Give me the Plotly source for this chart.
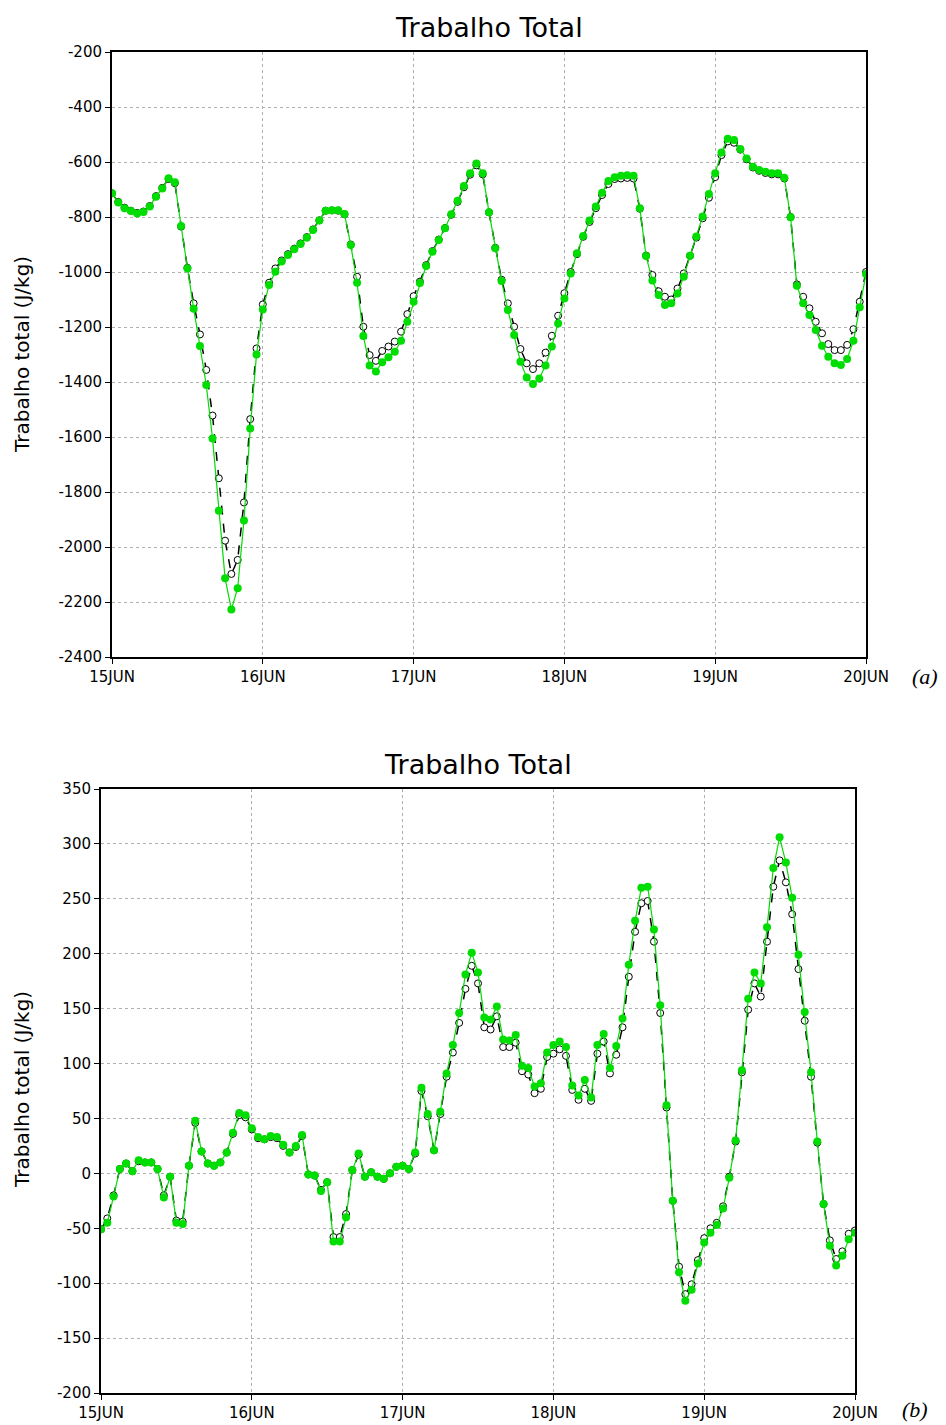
import plotly.graph_objects as go

W, H = 946, 1425
OFF = 8  # page body margin
FW, FH = W - OFF, H - OFF

hours = list(range(121))
day_ticks = [0, 24, 48, 72, 96, 120]
day_labels = ["15JUN", "16JUN", "17JUN", "18JUN", "19JUN", "20JUN"]

# Panel (a)
a_green = [-714, -747, -768, -778, -787, -782, -762, -726, -696, -659,
           -674, -833, -987, -1134, -1269, -1411, -1605, -1868, -2114, -2227,
           -2150, -1904, -1569, -1300, -1136, -1047, -999, -962, -938, -917,
           -898, -875, -847, -813, -777, -775, -775, -789, -902, -1039,
           -1233, -1340, -1362, -1328, -1310, -1290, -1250, -1181, -1108, -1040,
           -978, -926, -884, -841, -790, -741, -687, -641, -605, -641,
           -783, -914, -1033, -1138, -1229, -1326, -1384, -1407, -1387, -1340,
           -1271, -1187, -1096, -1005, -932, -869, -813, -762, -712, -669,
           -655, -650, -648, -650, -768, -942, -1031, -1084, -1120, -1114,
           -1078, -1017, -941, -871, -798, -716, -641, -565, -515, -520,
           -553, -587, -617, -629, -635, -641, -641, -657, -801, -1050,
           -1114, -1156, -1211, -1268, -1308, -1332, -1338, -1316, -1250, -1128,
           -1007]
a_black = [-714, -745, -766, -777, -785, -780, -760, -724, -694, -662,
           -677, -835, -985, -1114, -1227, -1356, -1522, -1750, -1977, -2098,
           -2047, -1838, -1535, -1278, -1118, -1039, -987, -958, -935, -915,
           -896, -873, -845, -812, -777, -776, -777, -790, -900, -1017,
           -1199, -1302, -1323, -1287, -1271, -1253, -1217, -1153, -1088, -1035,
           -975, -924, -882, -840, -792, -745, -692, -646, -612, -645,
           -783, -912, -1028, -1114, -1199, -1280, -1332, -1353, -1332, -1293,
           -1232, -1159, -1077, -1000, -935, -872, -818, -768, -720, -680,
           -662, -660, -658, -660, -770, -940, -1011, -1070, -1090, -1100,
           -1060, -1005, -941, -875, -805, -730, -655, -575, -525, -530,
           -555, -590, -620, -632, -640, -645, -645, -660, -800, -1045,
           -1090, -1132, -1181, -1223, -1262, -1284, -1284, -1265, -1208, -1108,
           -1000]
a_ticks = [-200, -400, -600, -800, -1000, -1200, -1400, -1600, -1800, -2000, -2200, -2400]

# Panel (b)
b_green = [-51, -45, -21, 4, 9, 2, 12, 10, 10, 4,
           -22, -3, -45, -46, 7, 48, 20, 9, 7, 10,
           19, 37, 55, 53, 41, 33, 31, 34, 33, 26,
           19, 25, 35, -1, -2, -16, -8, -62, -62, -40,
           3, 18, -3, 1, -3, -5, 0, 6, 7, 4,
           19, 78, 54, 21, 56, 91, 117, 146, 181, 201,
           183, 142, 140, 152, 122, 121, 126, 98, 96, 79,
           82, 110, 117, 120, 115, 80, 71, 85, 69, 117,
           127, 96, 116, 141, 190, 230, 260, 261, 222, 153,
           62, -25, -90, -116, -106, -82, -63, -54, -47, -32,
           -4, 30, 94, 159, 183, 173, 224, 278, 306, 283,
           251, 199, 147, 92, 29, -28, -66, -84, -75, -60,
           -54]
b_black = [-51, -41, -20, 4, 9, 2, 11, 10, 10, 4,
           -20, -3, -43, -44, 7, 46, 20, 9, 7, 10,
           19, 36, 53, 51, 40, 32, 31, 33, 32, 25,
           19, 24, 34, -1, -2, -15, -8, -58, -58, -37,
           3, 17, -3, 1, -3, -5, 0, 6, 7, 4,
           18, 75, 52, 21, 54, 88, 110, 137, 168, 189,
           173, 133, 131, 143, 115, 115, 119, 93, 90, 73,
           77, 106, 109, 113, 107, 76, 67, 77, 66, 109,
           120, 91, 108, 133, 179, 220, 246, 248, 211, 146,
           60, -25, -85, -110, -101, -79, -59, -50, -45, -30,
           -3, 29, 92, 149, 173, 161, 211, 261, 285, 265,
           236, 186, 139, 88, 28, -28, -61, -78, -71, -55,
           -52]
b_ticks = [350, 300, 250, 200, 150, 100, 50, 0, -50, -100, -150, -200]

title_text = "Trabalho Total"
ytitle_text = "Trabalho total (J/kg)"
panel_labels = ["(a)", "(b)"]

GREEN = "#00dd00"
FONT = "DejaVu Sans"

fig = go.Figure()


def add_pair(xa, ya, black, green):
    fig.add_trace(go.Scatter(
        x=hours, y=black, mode="lines+markers", xaxis=xa, yaxis=ya,
        line=dict(color="black", width=1.5, dash="dash"),
        marker=dict(symbol="circle", size=7, color="white",
                    line=dict(color="black", width=1)),
        showlegend=False))
    fig.add_trace(go.Scatter(
        x=hours, y=green, mode="lines+markers", xaxis=xa, yaxis=ya,
        line=dict(color=GREEN, width=1.2),
        marker=dict(symbol="circle", size=8, color=GREEN),
        showlegend=False))


add_pair("x", "y", a_black, a_green)
add_pair("x2", "y2", b_black, b_green)


def px_x(p):
    return (p - OFF) / FW


def px_y(p):
    return 1 - (p - OFF) / FH


axis_common = dict(
    showline=True, linecolor="black", linewidth=2, mirror=True,
    ticks="outside", ticklen=5, tickcolor="black", tickwidth=1,
    showgrid=True, gridcolor="#b0b0b0", griddash="dot", gridwidth=1,
    zeroline=False, automargin=False,
    tickfont=dict(family=FONT, size=15, color="black"),
)

fig.update_layout(
    width=FW, height=FH, autosize=False,
    margin=dict(l=0, r=0, t=0, b=0, pad=0, autoexpand=False),
    paper_bgcolor="white", plot_bgcolor="white",
    xaxis=dict(domain=[px_x(112), px_x(866)], anchor="y", range=[0, 120],
               tickvals=day_ticks, ticktext=day_labels, **axis_common),
    yaxis=dict(domain=[px_y(657), px_y(52)], anchor="x", range=[-2400, -200],
               tickvals=a_ticks, ticktext=[str(v) for v in a_ticks], **axis_common),
    xaxis2=dict(domain=[px_x(101), px_x(855)], anchor="y2", range=[0, 120],
                tickvals=day_ticks, ticktext=day_labels, **axis_common),
    yaxis2=dict(domain=[px_y(1393), px_y(789)], anchor="x2", range=[-200, 350],
                tickvals=b_ticks, ticktext=[str(v) for v in b_ticks], **axis_common),
)

annotations = [
    dict(text=title_text, x=px_x(489), y=px_y(27), xref="paper", yref="paper",
         showarrow=False, font=dict(family=FONT, size=27, color="black"),
         xanchor="center", yanchor="middle"),
    dict(text=title_text, x=px_x(478), y=px_y(764), xref="paper", yref="paper",
         showarrow=False, font=dict(family=FONT, size=27, color="black"),
         xanchor="center", yanchor="middle"),
    dict(text=ytitle_text, x=px_x(22), y=px_y(355), xref="paper", yref="paper",
         showarrow=False, textangle=-90, font=dict(family=FONT, size=20, color="black"),
         xanchor="center", yanchor="middle"),
    dict(text=ytitle_text, x=px_x(22), y=px_y(1090), xref="paper", yref="paper",
         showarrow=False, textangle=-90, font=dict(family=FONT, size=20, color="black"),
         xanchor="center", yanchor="middle"),
    dict(text="<i>" + panel_labels[0] + "</i>", x=px_x(925), y=px_y(676),
         xref="paper", yref="paper", showarrow=False,
         font=dict(family="Liberation Serif", size=22, color="black"),
         xanchor="center", yanchor="middle"),
    dict(text="<i>" + panel_labels[1] + "</i>", x=px_x(915), y=px_y(1409),
         xref="paper", yref="paper", showarrow=False,
         font=dict(family="Liberation Serif", size=22, color="black"),
         xanchor="center", yanchor="middle"),
]
fig.update_layout(annotations=annotations)

fig.write_html("out.html")
